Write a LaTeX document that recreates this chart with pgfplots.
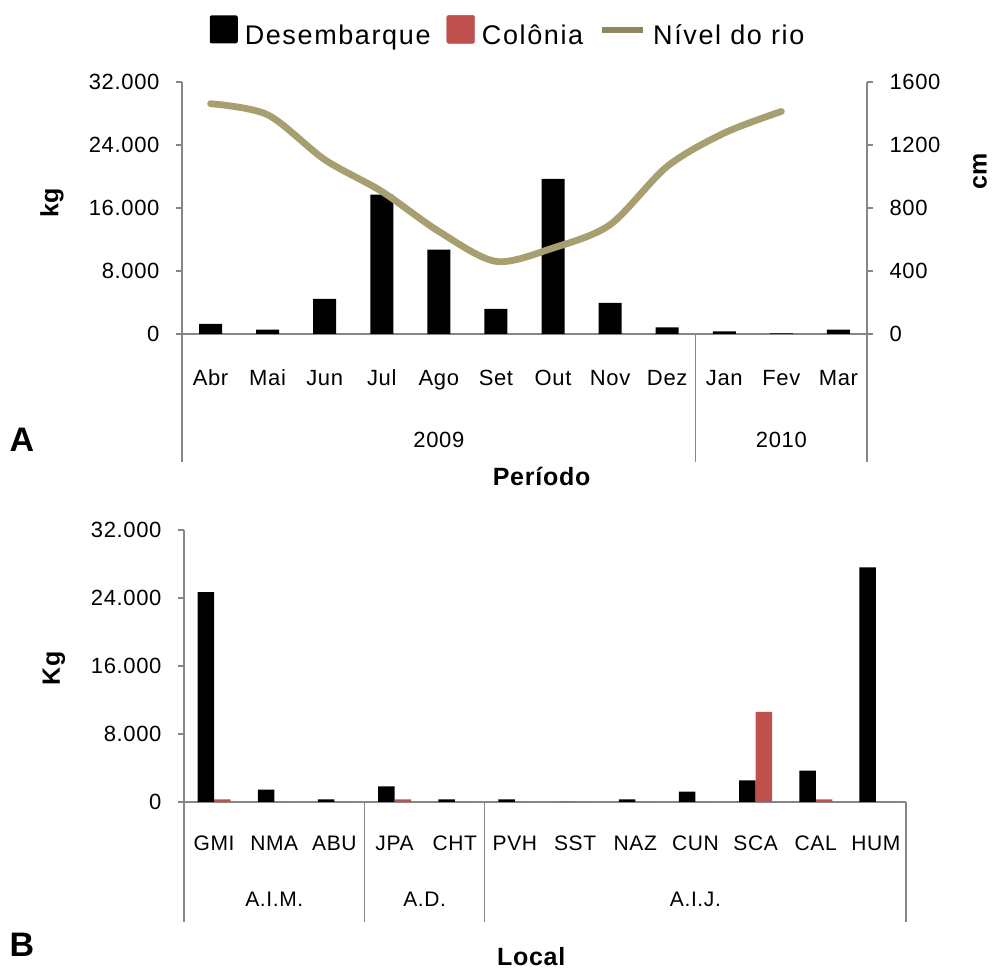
\documentclass[border=0pt]{standalone}
\usepackage{pgfplots}
\pgfplotsset{compat=1.18}
\usepackage{fontspec}
\setmainfont{Liberation Sans}[LetterSpace=3]
\definecolor{axisgray}{RGB}{134,134,134}
\definecolor{colonia}{RGB}{192,80,77}
\definecolor{nivel}{RGB}{168,159,112}

\pgfplotsset{
  basechart/.style={
    scale only axis, clip=false,
    axis line style={axisgray, line width=1.3pt, -},
    tick align=outside, major tick length=6pt,
    y tick style={axisgray, line width=1.3pt},
    x tick style={draw=none},
    ticklabel style={font=\fontsize{22}{26}\selectfont},
    scaled y ticks=false,
    /pgf/number format/assume math mode=true,
  },
}

\begin{document}
\begin{tikzpicture}
\path (0pt,0pt) rectangle (993pt,969pt);

% ---------- A: landings per month ----------
\begin{axis}[basechart,
  at={(182pt,635pt)}, anchor=south west, width=685pt, height=252pt,
  xmin=-0.5, xmax=11.5, ymin=0, ymax=32000,
  axis x line*=bottom, axis y line*=left,
  ytick={0,8000,16000,24000,32000},
  yticklabels={0,8.000,16.000,24.000,32.000},
  yticklabel style={xshift=-13pt},
  xtick={0,...,11},
  xticklabels={Abr,Mai,Jun,Jul,Ago,Set,Out,Nov,Dez,Jan,Fev,Mar},
  xticklabel style={anchor=base, yshift=-46pt},
  ylabel={kg},
  every axis y label/.style={at={(axis description cs:-0.19,0.52)}, rotate=90, anchor=center,
    font=\bfseries\fontsize{25}{30}\selectfont},
  ybar, bar width=23pt,
  legend style={at={(axis description cs:0.476,1.2)}, anchor=center, draw=none, fill=none,
    font=\fontsize{27}{31}\selectfont\addfontfeatures{LetterSpace=6}, legend columns=3,
    /tikz/every odd column/.append style={column sep=5pt},
    /tikz/every even column/.append style={column sep=14pt}},
  legend cell align=left,
]
\addplot[fill=black, draw=none,
  legend image code/.code={\fill[black, rounded corners=2pt] (0pt,-8pt) rectangle (28pt,20pt);}]
  coordinates {(0,1300) (1,550) (2,4450) (3,17700) (4,10700) (5,3200)
               (6,19700) (7,3950) (8,850) (9,340) (10,90) (11,550)};
\addlegendentry{Desembarque}
\addlegendimage{legend image code/.code={\fill[colonia, rounded corners=2pt] (0pt,-8pt) rectangle (28pt,20pt);}}
\addlegendentry{Colônia}
\addlegendimage{legend image code/.code={\draw[nivel!85!black, line width=6pt] (16pt,5pt) -- (57pt,5pt);}}
\addlegendentry{Nível do rio}

% group separators and years
\draw[axisgray, line width=1.3pt] (axis cs:-0.5,0) -- ++(0pt,-128pt);
\draw[axisgray, line width=1.3pt] (axis cs:8.5,0) -- ++(0pt,-128pt);
\draw[axisgray, line width=1.3pt] (axis cs:11.5,0) -- ++(0pt,-128pt);
\node[anchor=base, font=\fontsize{22}{26}\selectfont] at ([yshift=-114pt]axis cs:4,0) {2009};
\node[anchor=base, font=\fontsize{22}{26}\selectfont] at ([yshift=-114pt]axis cs:10,0) {2010};
\node[font=\bfseries\fontsize{25}{30}\selectfont] at ([yshift=-142pt]axis cs:5.8,0) {Período};
\node[font=\bfseries\fontsize{34}{40}\selectfont] at ([xshift=-160pt,yshift=-106pt]axis cs:-0.5,0) {A};
\end{axis}

% river level on the right axis
\begin{axis}[basechart,
  at={(182pt,635pt)}, anchor=south west, width=685pt, height=252pt,
  xmin=-0.5, xmax=11.5, ymin=0, ymax=1600,
  axis x line=none, axis y line*=right,
  ytick={0,400,800,1200,1600},
  yticklabels={0,400,800,1200,1600},
  yticklabel style={xshift=13pt},
  ylabel={cm},
  every axis y label/.style={at={(axis description cs:1.165,0.645)}, rotate=90, anchor=center,
    font=\bfseries\fontsize{25}{30}\selectfont},
]
\addplot[nivel, line width=6.8pt, smooth, line cap=round, line join=round]
  coordinates {(0,1462) (1,1392) (2,1107) (3,905) (4,651) (5,461)
               (6,546) (7,694) (8,1064) (9,1276) (10,1413)};
\end{axis}

% ---------- B: landings per site ----------
\begin{axis}[basechart,
  at={(184pt,167pt)}, anchor=south west, width=722pt, height=272pt,
  xmin=-0.5, xmax=11.5, ymin=0, ymax=32000,
  axis x line*=bottom, axis y line*=left,
  ytick={0,8000,16000,24000,32000},
  yticklabels={0,8.000,16.000,24.000,32.000},
  yticklabel style={xshift=-13pt},
  xtick={0,...,11},
  xticklabels={GMI,NMA,ABU,JPA,CHT,PVH,SST,NAZ,CUN,SCA,CAL,HUM},
  xticklabel style={anchor=base, yshift=-43pt, font=\fontsize{21}{25}\selectfont},
  ylabel={Kg},
  every axis y label/.style={at={(axis description cs:-0.18,0.49)}, rotate=90, anchor=center,
    font=\bfseries\fontsize{25}{30}\selectfont},
  ybar=0pt, bar width=16.5pt,
]
\addplot[fill=black, draw=none]
  coordinates {(0,24700) (1,1450) (2,300) (3,1850) (4,300) (5,300)
               (6,0) (7,300) (8,1220) (9,2550) (10,3700) (11,27600)};
\addplot[fill=colonia, draw=none]
  coordinates {(0,300) (1,0) (2,0) (3,300) (4,0) (5,0)
               (6,0) (7,0) (8,0) (9,10600) (10,300) (11,0)};

\draw[axisgray, line width=1.3pt] (axis cs:-0.5,0) -- ++(0pt,-120pt);
\draw[axisgray, line width=1.3pt] (axis cs:2.5,0) -- ++(0pt,-120pt);
\draw[axisgray, line width=1.3pt] (axis cs:4.5,0) -- ++(0pt,-120pt);
\draw[axisgray, line width=1.3pt] (axis cs:11.5,0) -- ++(0pt,-120pt);
\node[anchor=base, font=\fontsize{21}{25}\selectfont] at ([yshift=-104pt]axis cs:1,0) {A.I.M.};
\node[anchor=base, font=\fontsize{21}{25}\selectfont] at ([yshift=-104pt]axis cs:3.5,0) {A.D.};
\node[anchor=base, font=\fontsize{21}{25}\selectfont] at ([yshift=-104pt]axis cs:8,0) {A.I.J.};
\node[font=\bfseries\fontsize{25}{30}\selectfont] at ([yshift=-155pt]axis cs:5.27,0) {Local};
\node[font=\bfseries\fontsize{34}{40}\selectfont] at ([xshift=-162pt,yshift=-143pt]axis cs:-0.5,0) {B};
\end{axis}
\end{tikzpicture}
\end{document}
